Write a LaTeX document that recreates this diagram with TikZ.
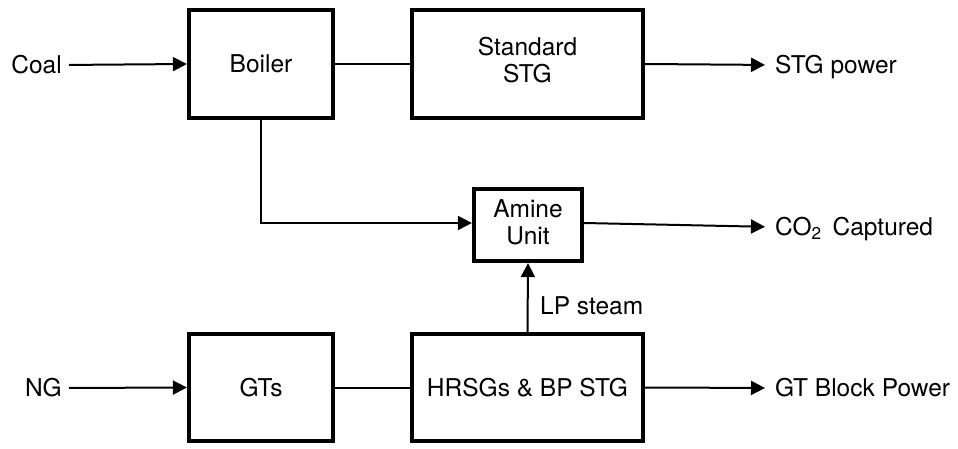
\documentclass[tikz,border=0pt]{standalone}
\usepackage{fontspec}
\setmainfont{TeX Gyre Heros}
\usetikzlibrary{arrows.meta}
\tikzset{
  blk/.style={draw=black, line width=4.2pt, align=center, inner sep=0pt,
    font=\fontsize{24.5}{26.5}\selectfont},
  lbl/.style={inner sep=0pt, text height=17pt, text depth=0pt,
    font=\fontsize{24.5}{26.5}\selectfont},
  flow/.style={line width=2pt, -{Triangle[length=14pt,width=14pt]}},
  link/.style={line width=2pt}
}
\begin{document}
\begin{tikzpicture}[x=1pt,y=-1pt]
\useasboundingbox (0,0) rectangle (958,449);
% blocks
\node[blk, minimum width=144pt, minimum height=108pt] (boiler) at (261,64) {Boiler};
\node[blk, minimum width=231pt, minimum height=108pt] (stg) at (527.5,64) {Standard\\STG\\[-18.5pt]\mbox{}};
\node[blk, minimum width=108pt, minimum height=72pt] (amine) at (528,225) {Amine\\Unit\\[-21pt]\mbox{}};
\node[blk, minimum width=144pt, minimum height=107pt] (gts) at (261,387.5) {GTs};
\node[blk, minimum width=231pt, minimum height=107pt] (hrsg) at (527.5,387.5) {HRSGs \& BP STG};
% labels
\node[lbl, anchor=east] (coal) at (62,65) {Coal};
\node[lbl, anchor=east] (ng) at (62,388) {NG};
\node[lbl, anchor=west] (stgp) at (775,65) {STG power};
\node[lbl, anchor=west] (co2) at (775,227) {CO\textsubscript{2}\, Captured};
\node[lbl, anchor=west] (gtbp) at (775,388) {GT Block Power};
\node[lbl, anchor=west] (lps) at (540,306) {LP steam};
% connectors
\draw[flow, shorten <=7pt] (coal.east) -- (boiler.west);
\draw[link] (boiler.east) -- (stg.west);
\draw[flow, shorten >=10pt] (stg.east) -- (stgp.west);
\draw[flow] (boiler.south) |- ([yshift=2pt]amine.west);
\draw[flow, shorten >=10pt] ([yshift=2pt]amine.east) -- (co2.west);
\draw[flow, shorten <=7pt] (ng.east) -- (gts.west);
\draw[link] (gts.east) -- (hrsg.west);
\draw[flow, shorten >=10pt] (hrsg.east) -- (gtbp.west);
\draw[flow] (hrsg.north) -- (amine.south);
\end{tikzpicture}
\end{document}
